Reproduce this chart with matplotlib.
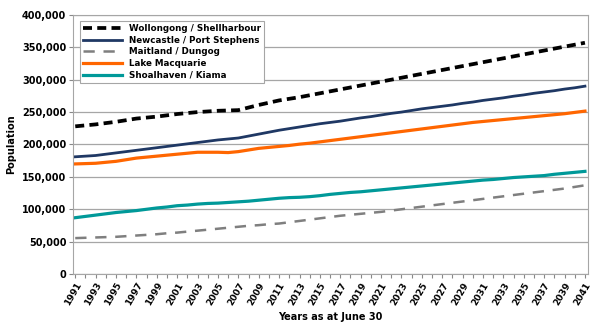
import matplotlib
matplotlib.use("Agg")
import matplotlib.pyplot as plt
from matplotlib.ticker import FuncFormatter, MultipleLocator

years = list(range(1991, 2042))

# population in thousands
wollongong = [228, 229.5, 231, 233, 235, 237.5, 240, 241.5, 243, 245,
              247, 248.5, 250, 251, 252, 252.5, 253, 257, 261, 264.5,
              268, 270.5, 273, 276, 279, 282, 285, 288, 291, 294,
              297, 300, 303, 306, 309, 312, 315, 318, 321, 324,
              327, 330, 333, 336, 339, 342, 345, 348, 351, 354, 357]
newcastle = [181, 182, 183, 185, 187, 189, 191, 193, 195, 197,
             199, 201, 203, 205, 207, 208.5, 210, 213, 216, 219,
             222, 224.5, 227, 229.5, 232, 234, 236, 238.5, 241, 243,
             245.5, 248, 250, 252.5, 255, 257, 259, 261, 263.5, 265.5,
             268, 270, 272, 274.5, 276.5, 279, 281, 283, 285.5, 287.5, 290]
maitland = [55.5, 56, 56.5, 57, 57.5, 58.5, 59.5, 60.5, 61.5, 63,
            64, 65.5, 67, 68.5, 70, 71.5, 73, 74.5, 75.5, 77,
            78, 80, 82, 84, 86, 88, 90, 91.5, 93, 94.5,
            96, 98, 100, 102, 104, 106, 108, 110, 112, 114,
            116, 118, 120, 122, 124, 126, 128, 130, 132, 134.5, 137]
lake_macquarie = [170, 170.5, 171, 172.5, 174, 176.5, 179, 180.5, 182, 183.5,
                  185, 186.5, 188, 188, 188, 187.5, 189, 191.5, 194, 195.5,
                  197, 198.5, 200.5, 202, 204, 206, 208, 210, 212, 214,
                  216, 218, 220, 222, 224, 226, 228, 230, 232, 234,
                  235.5, 237, 238.5, 240, 241.5, 243, 244.5, 246, 247.5, 249.5, 251.5]
shoalhaven = [87, 89, 91, 93, 95, 96.5, 98, 100, 102, 103.5,
              105.5, 106.5, 108, 109, 109.5, 110.5, 111.5, 112.5, 114, 115.5,
              117, 118, 118.5, 119.5, 121, 123, 124.5, 126, 127, 128.5,
              130, 131.5, 133, 134.5, 136, 137.5, 139, 140.5, 142, 143.5,
              145, 146, 147.5, 149, 150, 151, 152, 154, 155.5, 157, 158.5]

series = [
    ("Wollongong / Shellharbour", wollongong, "#000000", (0, (2.4, 1.4)), 2.7),
    ("Newcastle / Port Stephens", newcastle, "#1F3864", "-", 2.0),
    ("Maitland / Dungog", maitland, "#7F7F7F", (0, (4.5, 3.5)), 1.8),
    ("Lake Macquarie", lake_macquarie, "#FF6600", "-", 2.3),
    ("Shoalhaven / Kiama", shoalhaven, "#009999", "-", 2.3),
]

plt.rcParams['font.family'] = ['DejaVu Sans']
fig = plt.figure(figsize=(6, 3.31), dpi=100)
ax = fig.add_axes([0.122, 0.172, 0.858, 0.783])

for name, vals, col, ls, lw in series:
    ax.plot(years, [v * 1000 for v in vals], color=col, linestyle=ls, linewidth=lw, label=name)

ax.set_xlim(1990.8, 2041.3)
ax.set_ylim(0, 400000)
ax.yaxis.set_major_locator(MultipleLocator(50000))
ax.yaxis.set_major_formatter(FuncFormatter(lambda v, p: f"{int(v):,}"))
ax.set_xticks(years)
ax.set_xticklabels([str(y) if (y - 1991) % 2 == 0 else "" for y in years],
                   rotation=60, ha="right", rotation_mode="anchor", fontsize=6.5, fontweight="bold")
for lab in ax.get_yticklabels():
    lab.set_fontsize(7)
    lab.set_fontweight("bold")
ax.tick_params(axis="x", length=3, color="#888888", pad=2)
ax.tick_params(axis="y", length=3, color="#888888", pad=2)
ax.grid(axis="y", color="#A6A6A6", linewidth=0.9)
ax.set_axisbelow(True)
for s in ax.spines.values():
    s.set_color("#A6A6A6")

ax.set_ylabel("Population", fontsize=7, fontweight="bold")
ax.set_xlabel("Years as at June 30", fontsize=7, fontweight="bold", labelpad=3)

leg = ax.legend(loc="upper left", bbox_to_anchor=(0.004, 0.995), fontsize=6.3,
                frameon=True, fancybox=False, edgecolor="#A6A6A6", handlelength=4.4,
                borderpad=0.4, labelspacing=0.3, framealpha=1)
for t in leg.get_texts():
    t.set_fontweight("bold")
leg.get_frame().set_linewidth(0.8)

fig.savefig("out.png", dpi=100)
